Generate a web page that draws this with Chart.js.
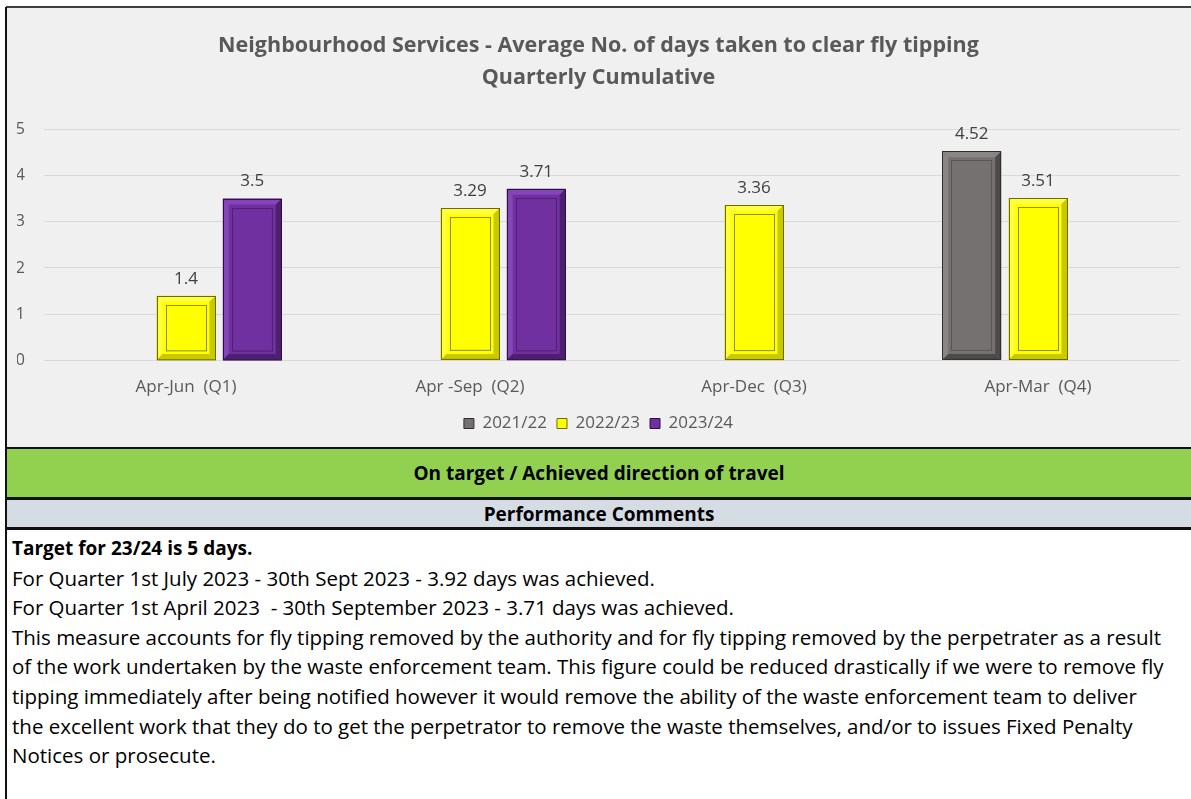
<!DOCTYPE html>
<html>
<head>
<meta charset="utf-8">
<script src="https://cdn.jsdelivr.net/npm/chart.js@4/dist/chart.umd.min.js"></script>
<style>
  body { margin: 0; width: 1191px; height: 799px; background: #fff; position: relative; overflow: hidden; font-family: "Open Sans", sans-serif; }
  .abs { position: absolute; }
  #topLine { left: 6px; top: 6px; right: 0; height: 2px; background: #3f3f3f; }
  #chartBg { left: 7px; top: 8px; width: 1184px; height: 439px; background: #f0f0f0; }
  #leftLine { left: 5px; top: 7px; width: 2px; height: 792px; background: #111; }
  #status { left: 7px; right: 0; top: 447px; height: 48px; background: #92d050; border-top: 2px solid #111; border-bottom: 3px solid #111;
            font-weight: bold; font-size: 19px; text-align: center; line-height: 48px; color: #000; }
  #commentsHead { left: 7px; right: 0; top: 500px; height: 27px; background: #d6dce4; border-bottom: 3px solid #111;
            font-weight: bold; font-size: 19px; text-align: center; line-height: 29px; color: #000; }
  #comments { left: 12px; top: 534px; font-size: 20.5px; line-height: 29.6px; color: #000; white-space: nowrap; }
  #comments div:first-child { font-weight: bold; font-size: 19px; }
</style>
</head>
<body>
<div id="chartBg" class="abs"><canvas id="chart" width="1184" height="439"></canvas></div>
<div id="topLine" class="abs"></div>
<div id="leftLine" class="abs"></div>
<div id="status" class="abs">On target / Achieved direction of travel</div>
<div id="commentsHead" class="abs">Performance Comments</div>
<div id="comments" class="abs">
  <div>Target for 23/24 is 5 days.</div>
  <div>For Quarter 1st July 2023 - 30th Sept 2023 - 3.92 days was achieved.</div>
  <div>For Quarter 1st April 2023&nbsp; - 30th September 2023 - 3.71 days was achieved.</div>
  <div>This measure accounts for fly tipping removed by the authority and for fly tipping removed by the perpetrater as a result</div>
  <div>of the work undertaken by the waste enforcement team. This figure could be reduced drastically if we were to remove fly</div>
  <div>tipping immediately after being notified however it would remove the ability of the waste enforcement team to deliver</div>
  <div>the excellent work that they do to get the perpetrator to remove the waste themselves, and/or to issues Fixed Penalty</div>
  <div>Notices or prosecute.</div>
</div>
<script>
// Chart data
const categories = ['Apr-Jun  (Q1)', 'Apr -Sep  (Q2)', 'Apr-Dec  (Q3)', 'Apr-Mar  (Q4)'];
const seriesNames = ['2021/22', '2022/23', '2023/24'];
const values2021 = [null, null, null, 4.52];
const values2022 = [1.4, 3.29, 3.36, 3.51];
const values2023 = [3.5, 3.71, null, null];
const yMin = 0;
const yMax = 5;
const yStep = 1;

const FONT = '"Open Sans", sans-serif';
const TEXT_GREY = '#595959';

// Bevel look and value labels, drawn over each bar
const bevelBars = {
  id: 'bevelBars',
  afterDatasetsDraw(chart) {
    const ctx = chart.ctx;
    chart.data.datasets.forEach((ds, i) => {
      const meta = chart.getDatasetMeta(i);
      meta.data.forEach((bar, j) => {
        const v = ds.data[j];
        if (v == null) return;
        const p = bar.getProps(['x', 'y', 'base', 'width'], true);
        const l = p.x - p.width / 2, r = p.x + p.width / 2, t = p.y, b = p.base;
        const e = 6;
        ctx.save();
        // light edges (top, left)
        ctx.fillStyle = ds.bevelLight;
        ctx.beginPath();
        ctx.moveTo(l, t); ctx.lineTo(r, t); ctx.lineTo(r - e, t + e); ctx.lineTo(l + e, t + e); ctx.closePath();
        ctx.fill();
        ctx.beginPath();
        ctx.moveTo(l, t); ctx.lineTo(l + e, t + e); ctx.lineTo(l + e, b - e); ctx.lineTo(l, b); ctx.closePath();
        ctx.fill();
        // dark edges (right, bottom)
        ctx.fillStyle = ds.bevelDark;
        ctx.beginPath();
        ctx.moveTo(r, t); ctx.lineTo(r, b); ctx.lineTo(r - e, b - e); ctx.lineTo(r - e, t + e); ctx.closePath();
        ctx.fill();
        ctx.beginPath();
        ctx.moveTo(l, b); ctx.lineTo(r, b); ctx.lineTo(r - e, b - e); ctx.lineTo(l + e, b - e); ctx.closePath();
        ctx.fill();
        // inner frame
        ctx.strokeStyle = ds.innerLine;
        ctx.lineWidth = 1;
        ctx.strokeRect(Math.round(l + e + 3) + 0.5, Math.round(t + e + 3) + 0.5, (r - l) - 2 * e - 7, (b - t) - 2 * e - 7);
        // outer frame
        ctx.strokeStyle = ds.borderColor;
        ctx.strokeRect(Math.round(l) + 0.5, Math.round(t) + 0.5, r - l - 1, b - t - 1);
        // value label
        ctx.fillStyle = '#404040';
        ctx.font = '17px ' + FONT;
        ctx.textAlign = 'center';
        ctx.textBaseline = 'middle';
        ctx.fillText(String(v), p.x, t - 17);
        ctx.restore();
      });
    });
  }
};

const ctx = document.getElementById('chart').getContext('2d');
const chart = new Chart(ctx, {
  type: 'bar',
  data: {
    labels: categories,
    datasets: [
      { label: seriesNames[0], data: values2021, backgroundColor: '#767171', borderColor: '#2e2e2e', borderWidth: 1,
        bevelLight: '#8a8686', bevelDark: '#4d4a4a', innerLine: '#5a5656' },
      { label: seriesNames[1], data: values2022, backgroundColor: '#ffff00', borderColor: '#6b6b00', borderWidth: 1,
        bevelLight: '#ffff40', bevelDark: '#c9c900', innerLine: '#8f8f00' },
      { label: seriesNames[2], data: values2023, backgroundColor: '#7030a0', borderColor: '#2e0f47', borderWidth: 1,
        bevelLight: '#8544b8', bevelDark: '#4d1f70', innerLine: '#4f2173' }
    ]
  },
  options: {
    responsive: false,
    devicePixelRatio: 1,
    animation: false,
    categoryPercentage: 0.7,
    barPercentage: 0.89,
    layout: { padding: { left: 10, right: 11, top: 0, bottom: 5 } },
    plugins: {
      title: {
        display: true,
        text: ['Neighbourhood Services - Average No. of days taken to clear fly tipping', 'Quarterly Cumulative'],
        color: TEXT_GREY,
        font: { family: FONT, size: 21.5, weight: 'bold', lineHeight: 1.49 },
        padding: { top: 22, bottom: 35 }
      },
      legend: {
        position: 'bottom',
        labels: {
          color: TEXT_GREY,
          font: { family: FONT, size: 17 },
          boxWidth: 10,
          boxHeight: 10,
          padding: 10
        }
      },
      tooltip: { enabled: false }
    },
    scales: {
      x: {
        grid: { display: false },
        border: { display: false },
        ticks: { color: TEXT_GREY, font: { family: FONT, size: 17 }, padding: 8 }
      },
      y: {
        min: yMin,
        max: yMax,
        afterFit(scale) { scale.width = 27; },
        ticks: { stepSize: yStep, color: TEXT_GREY, font: { family: FONT, size: 16 }, padding: 19 },
        grid: { color: '#d9d9d9', drawTicks: false },
        border: { display: false }
      }
    }
  },
  plugins: [bevelBars]
});
</script>
</body>
</html>
